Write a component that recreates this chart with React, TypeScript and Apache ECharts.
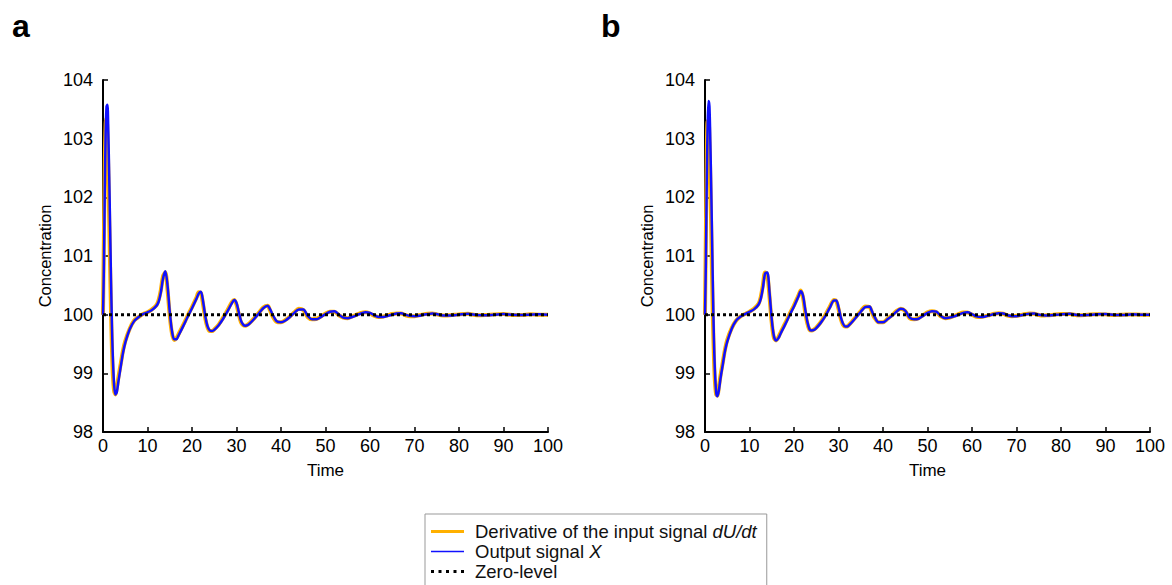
import React, { useEffect, useRef } from "react";
import * as echarts from "echarts";

const timePoints = [
  0, 0.2, 0.4, 0.6, 0.8, 1.0, 1.2, 1.4, 1.6, 1.8, 2.0, 2.2, 2.5, 2.8, 3.1, 3.5, 4, 4.5, 5, 6, 7, 8, 9, 10, 11, 12,
  12.5, 13, 13.5, 14, 14.5, 15, 15.5, 16, 16.5, 17, 18, 19, 20, 21, 21.5, 22, 22.5, 23, 23.5, 24, 24.5, 25, 26, 27,
  28, 29, 29.5, 30, 30.5, 31, 31.5, 32, 32.5, 33, 34, 35, 36, 37, 37.5, 38, 39, 40, 41, 42, 43, 44, 45, 46, 47, 48,
  49, 50, 51, 52, 53, 54, 55, 56, 57, 58, 59, 60, 61, 62, 63, 64, 65, 66, 67, 68, 69, 70, 71, 72, 73, 74, 75, 76,
  77, 78, 80, 82, 84, 86, 88, 90, 92, 94, 96, 98, 100,
];

const outputA = [
  100.0, 100.8, 102.1, 103.1, 103.55, 103.58, 103.1, 102.35, 101.5, 100.6, 99.85, 99.3, 98.8, 98.64, 98.68, 98.88,
  99.12, 99.35, 99.52, 99.75, 99.89, 99.96, 100.01, 100.04, 100.08, 100.15, 100.22, 100.38, 100.62, 100.74, 100.5,
  100.05, 99.72, 99.58, 99.58, 99.65, 99.8, 99.96, 100.11, 100.27, 100.36, 100.39, 100.22, 99.97, 99.8, 99.73, 99.72,
  99.74, 99.82, 99.93, 100.06, 100.2, 100.25, 100.2, 100.05, 99.9, 99.83, 99.81, 99.82, 99.85, 99.93, 100.02, 100.11,
  100.15, 100.1, 100.02, 99.89, 99.87, 99.9, 99.96, 100.03, 100.09, 100.09, 99.98, 99.92, 99.92, 99.96, 100.01,
  100.05, 100.06, 100.0, 99.95, 99.94, 99.96, 99.99, 100.02, 100.04, 100.03, 99.99, 99.96, 99.96, 99.98, 100.0,
  100.02, 100.025, 100.0, 99.98, 99.975, 99.98, 100.0, 100.01, 100.02, 100.01, 99.99, 99.985, 99.985, 100.0, 100.015,
  99.995, 99.99, 100.0, 100.01, 100.0, 99.995, 100.0, 100.005, 100.0,
];

const derivativeA = [
  100.0, 101.3, 102.6, 103.25, 103.35, 103.05, 102.4, 101.6, 100.8, 100.05, 99.45, 99.0, 98.7, 98.64, 98.75, 98.95,
  99.17, 99.39, 99.55, 99.76, 99.9, 99.96, 100.01, 100.04, 100.09, 100.16, 100.25, 100.42, 100.66, 100.72, 100.42,
  99.98, 99.68, 99.57, 99.6, 99.67, 99.82, 99.98, 100.13, 100.29, 100.38, 100.37, 100.17, 99.93, 99.78, 99.72, 99.72,
  99.75, 99.83, 99.95, 100.08, 100.22, 100.25, 100.17, 100.01, 99.87, 99.82, 99.81, 99.83, 99.86, 99.94, 100.03,
  100.12, 100.15, 100.08, 99.99, 99.88, 99.87, 99.91, 99.97, 100.04, 100.1, 100.08, 99.96, 99.92, 99.93, 99.97,
  100.02, 100.05, 100.05, 99.99, 99.95, 99.94, 99.97, 100.0, 100.03, 100.04, 100.02, 99.98, 99.96, 99.97, 99.99,
  100.01, 100.02, 100.02, 99.99, 99.975, 99.975, 99.99, 100.005, 100.015, 100.02, 100.005, 99.99, 99.985, 99.99,
  100.005, 100.015, 99.99, 99.995, 100.005, 100.01, 99.995, 99.995, 100.005, 100.0, 100.0,
];

const outputB = [
  100.0, 100.9, 102.3, 103.25, 103.64, 103.55, 102.95, 102.15, 101.25, 100.35, 99.6, 99.1, 98.68, 98.61, 98.7, 98.92,
  99.15, 99.38, 99.54, 99.76, 99.9, 99.97, 100.01, 100.05, 100.09, 100.17, 100.26, 100.45, 100.7, 100.72, 100.38,
  99.92, 99.63, 99.56, 99.6, 99.68, 99.83, 99.99, 100.14, 100.31, 100.4, 100.33, 100.1, 99.88, 99.75, 99.73, 99.74,
  99.77, 99.86, 99.97, 100.11, 100.24, 100.24, 100.13, 99.96, 99.85, 99.8, 99.8, 99.83, 99.87, 99.96, 100.05, 100.13,
  100.14, 100.06, 99.98, 99.87, 99.87, 99.92, 99.98, 100.05, 100.1, 100.07, 99.95, 99.92, 99.93, 99.98, 100.03,
  100.06, 100.05, 99.98, 99.94, 99.95, 99.97, 100.0, 100.03, 100.04, 100.01, 99.97, 99.96, 99.97, 99.99, 100.01,
  100.025, 100.02, 99.99, 99.975, 99.975, 99.99, 100.005, 100.015, 100.02, 100.0, 99.99, 99.985, 99.99, 100.005,
  100.015, 99.99, 99.995, 100.005, 100.01, 99.995, 99.995, 100.005, 100.0, 100.0,
];

const derivativeB = [
  100.0, 101.4, 102.75, 103.3, 103.3, 102.95, 102.3, 101.45, 100.6, 99.85, 99.3, 98.9, 98.64, 98.62, 98.76, 98.97,
  99.19, 99.41, 99.57, 99.77, 99.9, 99.97, 100.01, 100.05, 100.1, 100.18, 100.29, 100.5, 100.72, 100.68, 100.3, 99.86,
  99.6, 99.56, 99.62, 99.7, 99.85, 100.01, 100.16, 100.33, 100.41, 100.3, 100.05, 99.85, 99.74, 99.73, 99.75, 99.78,
  99.87, 99.99, 100.13, 100.25, 100.23, 100.1, 99.93, 99.83, 99.8, 99.8, 99.84, 99.88, 99.97, 100.06, 100.14, 100.13,
  100.04, 99.96, 99.87, 99.87, 99.93, 99.99, 100.06, 100.1, 100.06, 99.94, 99.92, 99.94, 99.99, 100.04, 100.06,
  100.04, 99.97, 99.94, 99.95, 99.98, 100.01, 100.035, 100.035, 100.0, 99.965, 99.96, 99.975, 99.995, 100.015,
  100.025, 100.015, 99.985, 99.975, 99.98, 99.995, 100.01, 100.02, 100.015, 99.995, 99.985, 99.99, 99.995, 100.01,
  100.01, 99.99, 100.0, 100.008, 100.005, 99.995, 100.0, 100.004, 100.0, 100.0,
];

const zeroLevel = [
  [0, 100],
  [100, 100],
];

const xTicks = { min: 0, max: 100, interval: 10 };
const yTicks = { min: 98, max: 104, interval: 1 };

const seriesNames = ["Derivative of the input signal dU/dt", "Output signal X", "Zero-level"];
const panelLabels = ["a", "b"];

const FONT = "'Liberation Sans', Arial, Helvetica, sans-serif";
const ORANGE = "#FFB000";
const BLUE = "#1010FF";

// legend icons (33 x 14 box; tiny corner marks fix the bounds)
const BOUNDS = "M0,0h0.01v0.01h-0.01z M32.99,13.99h0.01v0.01h-0.01z ";
const ICON_THICK = "path://" + BOUNDS + "M0,5.6h33v2.8h-33z";
const ICON_THIN = "path://" + BOUNDS + "M0,6.3h33v1.4h-33z";
const ICON_DOTS =
  "path://" + BOUNDS + "M0,5.5h3v3h-3z M7.5,5.5h3v3h-3z M15,5.5h3v3h-3z M22.5,5.5h3v3h-3z M30,5.5h3v3h-3z";

export default function App() {
  const ref = useRef<HTMLDivElement>(null);

  useEffect(() => {
    if (!ref.current) return;
    const chart = echarts.init(ref.current, undefined, { renderer: "svg" });

    const makeAxes = (idx: number) => ({
      x: {
        type: "value",
        gridIndex: idx,
        min: xTicks.min,
        max: xTicks.max,
        interval: xTicks.interval,
        name: "Time",
        nameLocation: "middle",
        nameGap: 30,
        nameTextStyle: { fontSize: 17, color: "#000", fontFamily: FONT },
        axisLine: { lineStyle: { color: "#000", width: 2 } },
        axisTick: { inside: true, length: 5, lineStyle: { color: "#000", width: 1.5 } },
        axisLabel: { fontSize: 18, color: "#000", fontFamily: FONT, margin: 5 },
        splitLine: { show: false },
      },
      y: {
        type: "value",
        gridIndex: idx,
        min: yTicks.min,
        max: yTicks.max,
        interval: yTicks.interval,
        name: "Concentration",
        nameLocation: "middle",
        nameGap: 50,
        nameTextStyle: { fontSize: 16.5, color: "#000", fontFamily: FONT },
        axisLine: { lineStyle: { color: "#000", width: 2 } },
        axisTick: { inside: true, length: 5, lineStyle: { color: "#000", width: 1.5 } },
        axisLabel: { fontSize: 18, color: "#000", fontFamily: FONT, margin: 10 },
        splitLine: { show: false },
      },
    });

    const axesA = makeAxes(0);
    const axesB = makeAxes(1);

    const toPairs = (vals: number[]) => timePoints.map((t, i) => [t, vals[i]]);

    const makeSeries = (idx: number, deriv: number[], out: number[]) => [
      {
        name: seriesNames[0],
        type: "line",
        xAxisIndex: idx,
        yAxisIndex: idx,
        data: toPairs(deriv),
        smooth: 0.3,
        symbol: "none",
        lineStyle: { color: ORANGE, width: 4 },
        itemStyle: { color: ORANGE },
      },
      {
        name: seriesNames[1],
        type: "line",
        xAxisIndex: idx,
        yAxisIndex: idx,
        data: toPairs(out),
        smooth: 0.3,
        symbol: "none",
        lineStyle: { color: BLUE, width: 2.5 },
        itemStyle: { color: BLUE },
      },
      {
        name: seriesNames[2],
        type: "line",
        xAxisIndex: idx,
        yAxisIndex: idx,
        data: zeroLevel,
        symbol: "none",
        lineStyle: { color: "#000", width: 3, type: [3, 3] },
        itemStyle: { color: "#000" },
      },
    ];

    chart.setOption({
      animation: false,
      textStyle: { fontFamily: FONT },
      grid: [
        { left: 103, top: 80, width: 445, height: 352 },
        { left: 705, top: 80, width: 445, height: 352 },
      ],
      xAxis: [axesA.x, axesB.x],
      yAxis: [axesA.y, axesB.y],
      legend: {
        orient: "vertical",
        left: 425,
        top: 514,
        height: 100,
        padding: [8, 10, 12, 6],
        borderColor: "#999",
        borderWidth: 1,
        itemWidth: 33,
        itemHeight: 14,
        itemGap: 1,
        selectedMode: false,
        data: [
          { name: seriesNames[0], icon: ICON_THICK, itemStyle: { color: ORANGE } },
          { name: seriesNames[1], icon: ICON_THIN, itemStyle: { color: BLUE } },
          { name: seriesNames[2], icon: ICON_DOTS, itemStyle: { color: "#000" } },
        ],
        formatter: (name: string) => {
          if (name === seriesNames[0]) return "{n|Derivative of the input signal }{i|dU/dt}";
          if (name === seriesNames[1]) return "{n|Output signal }{i|X}";
          return "{n|Zero-level}";
        },
        textStyle: {
          fontSize: 18.5,
          color: "#111",
          fontFamily: FONT,
          padding: [0, 0, 0, 6],
          rich: {
            n: { fontSize: 18.5, color: "#111", fontFamily: FONT },
            i: { fontSize: 18.5, color: "#111", fontFamily: FONT, fontStyle: "italic" },
          },
        },
      },
      graphic: [
        {
          type: "text",
          left: 12,
          top: 10,
          style: { text: panelLabels[0], fontSize: 32, fontWeight: "bold", fill: "#000", fontFamily: FONT },
        },
        {
          type: "text",
          left: 601,
          top: 10,
          style: { text: panelLabels[1], fontSize: 32, fontWeight: "bold", fill: "#000", fontFamily: FONT },
        },
      ],
      series: [...makeSeries(0, derivativeA, outputA), ...makeSeries(1, derivativeB, outputB)],
    });

    return () => chart.dispose();
  }, []);

  return (
    <div ref={ref} style={{ position: "absolute", left: 0, top: 0, width: 1172, height: 585 }} />
  );
}
